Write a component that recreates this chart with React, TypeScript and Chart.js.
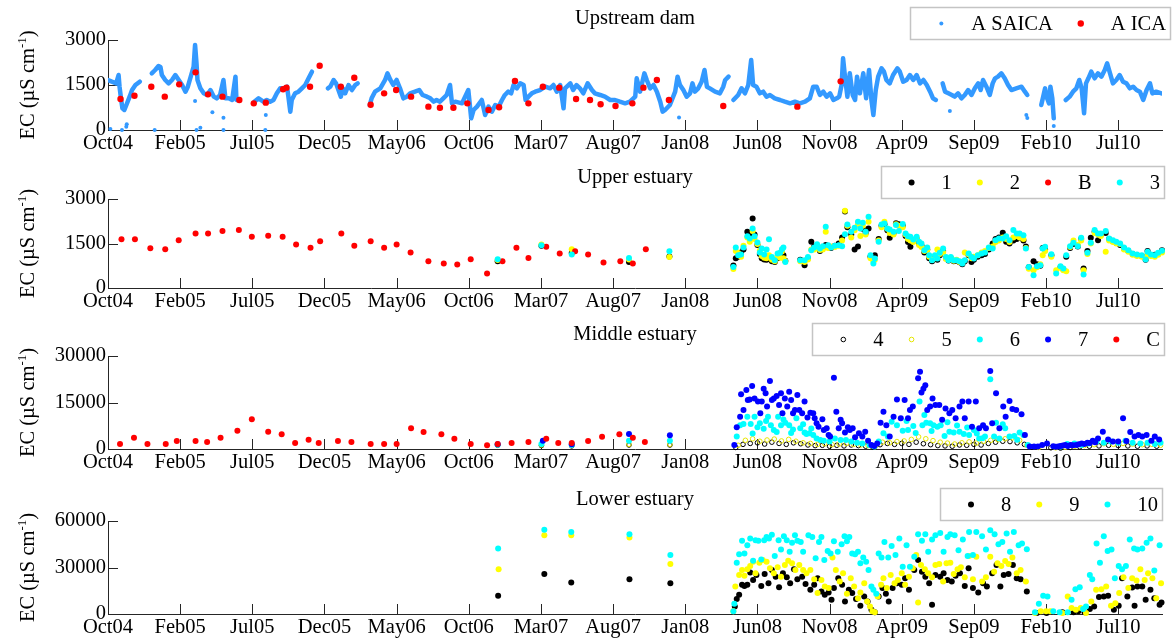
import React, { useEffect, useRef } from 'react';
import { Chart, registerables } from 'chart.js';

Chart.register(...registerables);

const FONT = '"Liberation Serif", "Times New Roman", Times, serif';
const FONT_SIZE = 20.5;
const AXIS = '#262626';
const X_AXIS_H = 26;
// x values are days counted from 1 Oct 2004; the axis runs to 1 Oct 2010
const X_MAX = 2191;
const tickDays = [0, 150, 300, 450, 600, 750, 900, 1050, 1200, 1350, 1500, 1650, 1800, 1950, 2100];
const tickLabels = ['Oct04', 'Feb05', 'Jul05', 'Dec05', 'May06', 'Oct06', 'Mar07', 'Aug07', 'Jan08', 'Jun08', 'Nov08', 'Apr09', 'Sep09', 'Feb10', 'Jul10'];

const C_SAICA = '#3399ff';
const C_RED = '#ff0000';
const C_BLACK = '#000000';
const C_YELLOW = '#ffff00';
const C_CYAN = '#00ffff';
const C_BLUE = '#0000ff';

type Pt = [number, number];

// ---------- Upstream dam ----------
// continuous SAICA record, one array per uninterrupted stretch
const saicaSegments: Pt[][] = [
  [[0, 1667], [8, 1611], [17, 1555], [22, 1833], [24, 1444], [27, 1055], [30, 722], [34, 667], [39, 867], [45, 1111], [50, 1333], [57, 1500], [66, 1611]],
  [[91, 1889], [98, 2000], [105, 2133], [109, 2100], [112, 1833], [119, 1667], [126, 1555], [133, 1667], [140, 1833], [147, 1667], [154, 1500], [161, 1278], [166, 1444], [172, 1778], [178, 2111], [181, 2833], [184, 2222], [186, 1667], [192, 1389], [199, 1222], [206, 1167], [213, 1333], [220, 1111], [226, 1055], [233, 1167], [240, 1667], [244, 1055], [251, 1055], [258, 1000], [265, 1778], [267, 1000], [271, 1000]],
  [[304, 944], [313, 1055], [323, 944], [330, 1000], [337, 944], [344, 1000], [351, 1222], [358, 1389], [365, 1389], [372, 1444], [375, 1111], [379, 611], [382, 1000], [389, 1222], [396, 1278], [403, 1389], [410, 1500], [417, 1722], [424, 1944]],
  [[457, 1389], [462, 1444], [469, 1667], [474, 1555], [479, 1333], [484, 1111], [488, 1389], [493, 1222], [500, 1500], [507, 1333], [514, 1500], [519, 1555]],
  [[544, 833], [548, 1055], [555, 1278], [566, 1389], [576, 1667], [581, 1889], [587, 1667], [593, 1500], [600, 1667], [607, 1389], [614, 1055], [621, 1111], [628, 1222], [638, 1278], [647, 1333], [654, 1167], [663, 1111], [670, 1055], [677, 944], [683, 1000], [690, 944], [697, 1055], [704, 1167], [711, 1500], [715, 889], [722, 944], [736, 889], [749, 1333], [755, 389], [760, 667], [767, 778], [777, 1000], [784, 500], [791, 778], [798, 611], [805, 833], [812, 778], [819, 1000], [825, 1167], [832, 1278], [838, 1222], [843, 1500], [850, 1389], [857, 1555], [864, 1500], [868, 1000], [874, 1111], [881, 1222], [888, 1278], [898, 1333], [909, 1444], [919, 1389], [926, 1500], [933, 1278], [940, 1500], [947, 722], [950, 1389], [961, 1555], [967, 1333], [974, 1500], [981, 1389], [988, 1222], [997, 1555], [1006, 1333], [1012, 1222], [1023, 1167], [1033, 1111], [1044, 1000], [1054, 1000], [1064, 944], [1075, 889], [1085, 944], [1096, 1111], [1099, 1722], [1106, 1278], [1115, 1889], [1120, 1667], [1127, 1389], [1134, 1500], [1141, 1278], [1148, 944], [1153, 611], [1158, 667], [1168, 833], [1179, 1278], [1184, 1778], [1189, 1500], [1196, 1333], [1203, 1111], [1210, 1222], [1215, 1555], [1220, 1278], [1227, 1389], [1234, 1611], [1240, 2000], [1245, 1444], [1251, 1389], [1262, 1278], [1272, 1222], [1279, 1444], [1283, 1667], [1290, 1778]],
  [[1300, 1000], [1310, 1167], [1317, 1389], [1324, 1222], [1331, 1500], [1337, 2333], [1341, 1500], [1348, 1444], [1355, 1222], [1362, 1278], [1369, 1111], [1376, 1167], [1386, 1055], [1397, 1000], [1407, 944], [1418, 889], [1428, 944], [1438, 889], [1449, 944], [1459, 1055], [1466, 1444], [1473, 1444], [1480, 1167], [1487, 1278], [1494, 1111], [1501, 1222], [1508, 1000], [1515, 1055], [1520, 1111], [1525, 1500], [1528, 2389], [1532, 1778], [1537, 1111], [1542, 1889], [1548, 1167], [1553, 1000], [1557, 1778], [1563, 1222], [1570, 1889], [1576, 1055], [1582, 2000], [1587, 1000], [1591, 500], [1596, 1333], [1601, 1778], [1608, 2056], [1613, 1944], [1618, 1667], [1625, 1555], [1632, 1833], [1641, 2056], [1646, 1944], [1653, 1611], [1660, 1667], [1667, 1833], [1674, 1667], [1681, 1833], [1688, 1555], [1695, 1667], [1702, 1500], [1709, 1278], [1715, 1055], [1721, 1000]],
  [[1735, 1555], [1740, 1278], [1747, 1222], [1754, 1167], [1760, 1111], [1767, 1222], [1774, 1055], [1781, 1167], [1788, 1333], [1795, 1167], [1802, 1389], [1809, 1555], [1814, 1333], [1819, 1667], [1826, 1444], [1833, 1167], [1839, 1555], [1844, 1722], [1850, 1778], [1857, 1889], [1864, 1722], [1871, 1500], [1878, 1333], [1888, 1389], [1899, 1444], [1906, 1278], [1911, 1167]],
  [[1940, 833], [1944, 1111], [1948, 1389], [1951, 1111], [1956, 889], [1959, 1444], [1963, 1055], [1966, 389]],
  [[1991, 1000], [1999, 1111], [2006, 1278], [2013, 1389], [2019, 1667], [2024, 1389], [2029, 555], [2033, 1555], [2038, 1722], [2044, 1944], [2051, 1722], [2058, 1889], [2065, 1778], [2072, 2000], [2077, 2222], [2083, 1889], [2089, 1555], [2096, 1667], [2103, 1833], [2110, 1611], [2117, 1555], [2124, 1389], [2131, 1444], [2138, 1333], [2145, 1278], [2152, 1000], [2159, 1333], [2166, 1555], [2171, 1222], [2179, 1278], [2190, 1222]],
];

// isolated SAICA readings away from the main record
const saicaStray: Pt[] = [
  [5, 33], [29, 0], [38, 110], [39, 190], [97, 0], [181, 967], [184, 0], [192, 78], [217, 590], [240, 411], [240, 0],
  [327, 0], [328, 500], [1187, 420], [1750, 633], [1909, 500], [1911, 400], [1966, 133],
];

const ica: Pt[] = [
  [26, 1033], [55, 1144], [90, 1444], [118, 1111], [148, 1522], [182, 1922], [208, 1189], [238, 1111], [273, 1000], [303, 889],
  [328, 911], [364, 1356], [371, 1411], [420, 1444], [440, 2144], [484, 1444], [512, 1744], [546, 844], [574, 1222], [599, 1333],
  [630, 1111], [666, 778], [690, 744], [718, 744], [747, 889], [791, 667], [813, 756], [846, 1633], [874, 889], [904, 1444],
  [938, 1411], [973, 1033], [1002, 1000], [1024, 856], [1055, 800], [1090, 889], [1113, 1411], [1141, 1667], [1166, 1000], [1279, 800],
  [1433, 778], [1523, 1622],
];

// ---------- Upper estuary ----------
const upperB: Pt[] = [
  [28, 1647], [56, 1647], [88, 1342], [119, 1308], [147, 1613], [182, 1839], [208, 1839], [238, 1918], [272, 1951], [299, 1726],
  [333, 1760], [363, 1726], [391, 1466], [421, 1354], [441, 1579], [485, 1839], [512, 1421], [546, 1579], [574, 1354], [600, 1466],
  [629, 1196], [666, 902], [698, 823], [726, 790], [754, 970], [788, 485], [820, 902], [849, 1354], [874, 1015], [911, 1387],
  [939, 1162], [971, 1241], [998, 1128], [1030, 857], [1065, 902], [1091, 823], [1118, 1308],
];

const upperDays = [
  810, 901, 964, 1083, 1167,
  1300, 1305, 1310, 1316, 1321, 1329, 1334, 1340, 1344, 1350, 1355, 1359, 1364, 1369, 1374, 1380, 1386, 1392, 1397, 1401, 1404, 1408,
  1439, 1448, 1455, 1462, 1468, 1474, 1480, 1486, 1492, 1497,
  1503, 1511, 1519, 1526, 1532, 1537, 1545, 1552, 1559, 1564,
  1569, 1575, 1581, 1585, 1591, 1594, 1602, 1608, 1614, 1620,
  1625, 1633, 1638, 1644, 1652, 1658, 1663, 1668, 1674, 1681,
  1686, 1691, 1697, 1703, 1707, 1713, 1719, 1724, 1729, 1736,
  1742, 1747, 1752, 1758, 1764, 1770, 1776, 1781, 1789, 1795,
  1800, 1808, 1816, 1823, 1831, 1839, 1845, 1852, 1860, 1867,
  1874, 1882, 1889, 1895, 1903, 1908,
  1914, 1924, 1931, 1938, 1943, 1948, 1961, 1971, 1980, 1986,
  1992, 2000, 2007, 2016, 2023, 2028, 2036, 2043, 2051, 2058,
  2064, 2074, 2081, 2089, 2096, 2104, 2112, 2121, 2130, 2139,
  2149, 2157, 2161, 2168, 2176, 2183, 2191,
];

const upper1: (number | null)[] = [
  902, 1420, 1180, 880, 1060,
  760, 1000, 1050, 1200, 1300, 1895, 1750, 2346, 1800, 1450, 1150, 1000, 960, 950, 1000, 900, 880, 1000, 1100, 1180, 1100, 920,
  950, 767, 1000, 1557, 1400, 1360, 1250, 1350, 1450, 1380,
  1350, 1420, 1500, 1703, 2580, 2050, 1800, 1297, 1400, 2100,
  2000, 1850, 2008, 1050, 1000, 1100, 1650, 2100, 2150, 1950,
  1692, 1850, 2180, 2150, 2100, 1750, 1550, 1387, 1600, 1650,
  1500, 1420, 1200, 1300, 1000, 900, 1050, 950, 1100, 1250,
  1000, 930, 1000, 900, 920, 870, 800, 900, 1100, 880,
  950, 1050, 1100, 1150, 1300, 1500, 1650, 1700, 1861, 1557,
  1500, 1600, 1650, 1700, 1600, 1400,
  700, 900, 800, 750, 1350, 1300, 1100, null, 700, 620,
  1050, 1350, 1480, 1400, 1650, 654, 1250, 1692, 1900, 1613,
  1800, 1850, 1650, 1580, 1520, 1450, 1330, 1250, 1150, 1100,
  1080, 950, 1250, 1100, 1120, 1150, 1274,
];

const upper2: (number | null)[] = [
  940, 1466, 1308, 960, 1049,
  640, 1250, 1180, 1050, 1420, 1700, 1560, 1920, 1650, 1480, 1260, 1080, 1020, 1000, 1100, 950, 900, 1080, 1020, 1230, 1000, 900,
  900, 880, 960, 1300, 1300, 1420, 1280, 1300, 1895, 1350,
  1400, 1380, 1420, 1600, 2606, 2100, 1700, 1950, 2150, 1750,
  2100, 1800, 2233, 1000, 900, 950, 1600, 2050, 2233, 2000,
  1850, 1800, 2150, 2100, 2050, 1800, 1650, 1600, 1550, 1680,
  1450, 1380, 1250, 1280, 1050, 950, 1000, 1300, 1150, 1200,
  980, 960, 1020, 920, 950, 880, 850, 1200, 1130, 1000,
  1050, 1100, 1200, 1250, 1350, 1400, 1550, 1600, 1700, 1650,
  1550, 1700, 1750, 1700, 1650, 1350,
  650, 600, 700, 800, 1105, 1250, 1050, 600, 680, 600,
  564, 1380, 1600, 1450, 1600, 600, 1150, 1500, 1850, 1800,
  1750, 1218, 1600, 1550, 1500, 1480, 1300, 1220, 1120, 1080,
  1050, 1000, 1150, 1080, 1050, 1120, 1200,
];

const upper3: (number | null)[] = [
  970, 1444, 1128, 1015, 1241,
  711, 1365, 1105, 1128, 1365, 1748, 1669, 2008, 1748, 1534, 1196, 1331, 1128, 1297, 1647, 1049, 936, 1162, 1184, 1308, 1365, 880,
  936, 936, 1049, 1274, 1365, 1478, 1331, 1410, 2064, 1444,
  1365, 1421, 1444, 1410, 1816, 2143, 1895, 2030, 2233, 2008,
  2200, 1895, 2403, 1105, 823, 993, 1557, 2143, 2177, 2008,
  1974, 1895, 2120, 1918, 2155, 1839, 1748, 1726, 1636, 1726,
  1557, 1500, 1274, 1365, 1105, 936, 1105, 993, 1184, 1331,
  1049, 936, 1049, 936, 936, 902, 823, 936, 1162, 1049,
  993, 1105, 1162, 1196, 1365, 1331, 1613, 1669, 1669, 1748,
  1613, 1951, 1839, 1839, 1782, 1331,
  711, 429, 733, 767, 1331, 1387, 1139, 485, 733, 654,
  1105, 1410, 1523, 1410, 1692, 451, 1184, 1523, 1951, 1839,
  1839, 1918, 1669, 1613, 1557, 1500, 1365, 1274, 1162, 1128,
  1105, 958, 1218, 1128, 1105, 1184, 1252,
];

// ---------- Middle estuary ----------
const mid4: Pt[] = [
  [810, 1200], [901, 1100], [964, 1000], [1083, 1290], [1168, 1290],
  [1305, 500], [1320, 1500], [1335, 1800], [1350, 2000], [1365, 1600], [1380, 2200], [1395, 1800], [1410, 1500], [1425, 2000], [1440, 1700],
  [1455, 1300], [1470, 1100], [1485, 1200], [1500, 900], [1515, 1200], [1530, 1000], [1545, 1300], [1560, 1100], [1575, 900], [1590, 600],
  [1605, 1400], [1620, 1800], [1635, 1500], [1650, 1800], [1665, 1500], [1680, 2200], [1695, 1700], [1710, 1400], [1725, 1100], [1740, 1000],
  [1755, 900], [1770, 1300], [1785, 1200], [1800, 1500], [1815, 1300], [1830, 1800], [1845, 2200], [1860, 2500], [1875, 2400], [1890, 2000],
  [1905, 1500], [1920, 600], [1960, 400], [1980, 300], [2000, 500], [2020, 700], [2040, 900], [2060, 1000], [2080, 1200], [2100, 1100],
  [2120, 1000], [2140, 900], [2160, 1000], [2180, 900],
];

const mid5: Pt[] = [
  [810, 1350], [901, 1300], [964, 1200], [1083, 1500], [1168, 1500],
  [1310, 1200], [1325, 2800], [1340, 3300], [1355, 2500], [1370, 2900], [1385, 3200], [1400, 2600], [1415, 3100], [1430, 2500], [1445, 2000],
  [1460, 1800], [1475, 1500], [1490, 1700], [1505, 1400], [1520, 1600], [1535, 1800], [1550, 1500], [1565, 1300], [1580, 1100], [1595, 800],
  [1610, 2200], [1625, 2000], [1640, 2400], [1655, 2600], [1670, 3100], [1685, 3900], [1700, 3300], [1715, 2700], [1730, 2200], [1745, 1900],
  [1760, 1600], [1775, 2000], [1790, 2300], [1805, 1900], [1820, 2500], [1835, 2800], [1850, 3000], [1865, 3300], [1880, 3600], [1895, 2800],
  [1910, 1200], [1935, 500], [1970, 400], [1990, 600], [2010, 900], [2030, 1100], [2050, 1400], [2070, 1700], [2090, 1500], [2110, 1800],
  [2130, 1600], [2150, 1400], [2170, 1500], [2188, 1200],
];

const mid6: Pt[] = [
  [810, 1400], [901, 1613], [964, 1300], [1083, 2688], [1168, 2688],
  [1307, 4000], [1314, 7700], [1321, 8100], [1329, 10400], [1336, 8100], [1340, 5000], [1344, 10400], [1350, 7000], [1355, 8300], [1363, 6500],
  [1368, 9000], [1372, 10400], [1378, 7700], [1384, 6100], [1390, 5500], [1393, 10400], [1399, 7700], [1404, 9500], [1408, 8500], [1416, 7700],
  [1420, 5200], [1424, 6300], [1431, 9900], [1439, 6700], [1445, 8000], [1448, 5300], [1452, 4800], [1458, 5100], [1462, 6600], [1466, 4500],
  [1473, 3400], [1481, 2900], [1488, 2700], [1500, 2400], [1511, 3400], [1523, 2900], [1534, 2900], [1545, 2400], [1557, 2000], [1568, 1800],
  [1583, 1300], [1593, 800], [1602, 2400], [1612, 5100], [1621, 4000], [1629, 8800], [1640, 7700], [1652, 5900], [1660, 9000], [1663, 6100],
  [1674, 7400], [1679, 5200], [1687, 15300], [1693, 7700], [1697, 11000], [1701, 8500], [1709, 8300], [1712, 5800], [1716, 7700], [1724, 7200],
  [1731, 7700], [1739, 4200], [1745, 8600], [1749, 5600], [1758, 5300], [1765, 7600], [1770, 5600], [1779, 4800], [1786, 6900], [1790, 4500],
  [1800, 6100], [1806, 5000], [1811, 3400], [1818, 3500], [1823, 4000], [1834, 22500], [1842, 4000], [1846, 8500], [1853, 3400], [1860, 8000],
  [1865, 6700], [1874, 4000], [1884, 4200], [1890, 3000], [1895, 5300], [1903, 4500], [1912, 1300],
  [1980, 800], [1994, 1600], [2009, 1800], [2024, 1300], [2039, 1800], [2055, 2400], [2070, 2000], [2085, 2400], [2100, 2000], [2115, 2700],
  [2130, 2000], [2146, 1800], [2161, 2000], [2176, 1600], [2188, 2000],
];

const mid7: Pt[] = [
  [810, 1500], [904, 2690], [964, 1500], [1083, 4838], [1168, 4408],
  [1302, 1300], [1307, 7000], [1314, 10400], [1316, 17700], [1321, 12600], [1327, 19000], [1330, 15800], [1334, 16000], [1339, 20300], [1344, 16300],
  [1351, 15300], [1356, 11500], [1359, 15300], [1363, 19400], [1367, 18000], [1370, 13700], [1376, 21900], [1380, 15800], [1384, 16300], [1390, 17100],
  [1395, 14200], [1399, 18000], [1402, 11500], [1407, 16300], [1412, 13700], [1416, 18500], [1420, 15800], [1424, 11500], [1428, 12600], [1433, 17400],
  [1437, 12600], [1443, 11500], [1448, 15300], [1454, 10200], [1460, 11700], [1466, 11500], [1469, 9900], [1473, 8300], [1477, 7200], [1485, 9600],
  [1488, 6100], [1494, 6700], [1498, 4500], [1501, 4000], [1509, 23000], [1514, 12000], [1519, 6700], [1523, 9400], [1526, 8300], [1532, 5300],
  [1538, 7000], [1542, 6100], [1548, 6700], [1553, 3800], [1561, 5100], [1568, 4000], [1574, 5600], [1580, 2700], [1587, 1300], [1593, 1000],
  [1599, 1800], [1606, 8500], [1612, 12000], [1618, 7700], [1625, 4000], [1633, 10400], [1640, 16000], [1648, 9900], [1656, 15800], [1663, 9900],
  [1667, 12600], [1673, 13700], [1684, 22800], [1688, 24900], [1691, 18200], [1695, 19400], [1699, 20600], [1703, 12600], [1709, 13700], [1714, 16300],
  [1720, 14200], [1728, 14200], [1734, 9400], [1741, 13100], [1749, 11500], [1755, 12600], [1762, 9900], [1770, 13700], [1776, 15300], [1781, 9900],
  [1789, 15300], [1796, 7200], [1804, 15300], [1811, 6700], [1819, 7700], [1825, 6700], [1834, 25200], [1838, 8300], [1846, 18000], [1853, 6700],
  [1861, 13700], [1866, 10400], [1874, 15500], [1880, 12900], [1888, 12600], [1899, 11200], [1906, 4500], [1916, 800], [1925, 800], [1933, 800],
  [1942, 1300], [1952, 1800], [1965, 900], [1970, 700], [1975, 800], [1980, 1000], [1985, 1100], [1990, 1300], [1995, 1000], [2001, 1300],
  [2006, 1200], [2013, 1300], [2018, 1500], [2024, 1800], [2030, 1600], [2036, 2000], [2041, 1900], [2047, 2700], [2052, 2200], [2058, 3400],
  [2068, 5600], [2079, 3100], [2089, 2400], [2100, 2400], [2110, 9900], [2117, 2600], [2125, 5500], [2134, 4000], [2142, 4500], [2150, 4000],
  [2159, 4500], [2169, 2700], [2176, 4000], [2185, 3100],
];

const midC: Pt[] = [
  [25, 1613], [54, 3655], [82, 1613], [120, 1613], [143, 2580], [182, 2580], [206, 2258], [234, 3655], [269, 5913], [299, 9568],
  [333, 5590], [361, 4730], [389, 1935], [417, 3010], [438, 1935], [478, 2580], [506, 2258], [546, 1613], [574, 1613], [600, 1613],
  [630, 6665], [656, 5483], [693, 4730], [720, 3333], [754, 1613], [788, 1183], [810, 1613], [839, 1935], [874, 2258], [911, 3333],
  [936, 1935], [964, 1935], [998, 2580], [1027, 3978], [1063, 4730], [1091, 3655], [1116, 2258],
];

// ---------- Lower estuary ----------
const low8: Pt[] = [
  [811, 11700], [907, 25800], [963, 20300], [1084, 22400], [1169, 19900],
  [1303, 4900], [1307, 9600], [1312, 12400], [1318, 18800], [1323, 18100], [1329, 18800], [1335, 26700], [1341, 22000], [1348, 25200], [1358, 18100],
  [1365, 25800], [1373, 19900], [1380, 28400], [1388, 24100], [1395, 17300], [1403, 26300], [1411, 23700], [1418, 19900], [1426, 28800], [1433, 22400],
  [1443, 24100], [1450, 19400], [1460, 15600], [1468, 18800], [1475, 23100], [1483, 14500], [1490, 12400], [1498, 13900], [1504, 9200], [1509, 16700],
  [1518, 23100], [1526, 18800], [1532, 8100], [1540, 15600], [1547, 13500], [1555, 9600], [1564, 5300], [1572, 11300], [1579, 8100], [1587, 2800],
  [1594, 1100], [1602, 11300], [1610, 16700], [1617, 13000], [1623, 8100], [1631, 16700], [1640, 19900], [1650, 18800], [1657, 23100], [1665, 15600],
  [1676, 28400], [1684, 34800], [1692, 27300], [1699, 24100], [1707, 19900], [1713, 6000], [1720, 25200], [1730, 24100], [1737, 26300], [1745, 22000],
  [1754, 20900], [1762, 24600], [1771, 26300], [1781, 18100], [1789, 29500], [1798, 16700], [1809, 13900], [1819, 19900], [1827, 17700], [1838, 26300],
  [1847, 31600], [1855, 17700], [1862, 25200], [1872, 25800], [1881, 31600], [1889, 23100], [1897, 22400], [1910, 14500],
  [1931, 600], [1951, 600], [1984, 1100], [2007, 1100], [2017, 1700], [2030, 1100], [2041, 3200], [2050, 4900], [2060, 10900], [2070, 11300],
  [2079, 11700], [2091, 2800], [2101, 5300], [2108, 23100], [2119, 11300], [2129, 17100], [2134, 5300], [2140, 17700], [2150, 17700], [2157, 9200],
  [2167, 15600], [2175, 10200], [2186, 6000], [2190, 7500],
];

const low9: Pt[] = [
  [812, 28800], [907, 50800], [963, 50800], [1084, 49300], [1169, 32200],
  [1300, 1700], [1304, 17700], [1312, 25200], [1318, 28400], [1323, 24600], [1329, 28800], [1335, 31000], [1341, 33700], [1346, 26300], [1354, 33100],
  [1361, 34800], [1369, 33700], [1376, 29500], [1384, 26300], [1392, 30100], [1399, 24100], [1407, 31600], [1414, 34400], [1422, 32700], [1429, 28400],
  [1437, 31600], [1445, 28400], [1452, 26300], [1460, 28400], [1468, 22400], [1475, 13500], [1483, 22000], [1490, 17700], [1498, 16700], [1506, 36500],
  [1513, 28400], [1521, 20900], [1528, 26300], [1536, 13000], [1544, 23100], [1551, 17700], [1559, 10200], [1564, 13900], [1572, 19900], [1578, 8100],
  [1584, 4900], [1589, 1700], [1594, 1100], [1600, 11300], [1607, 18800], [1612, 23100], [1619, 16700], [1627, 25200], [1635, 19900], [1642, 22000],
  [1650, 26300], [1657, 18800], [1665, 24100], [1673, 29500], [1680, 38000], [1684, 7500], [1690, 31600], [1698, 28800], [1705, 26300], [1713, 23700],
  [1720, 31600], [1728, 32200], [1736, 20900], [1743, 32700], [1751, 33100], [1758, 25800], [1766, 28800], [1773, 30100], [1781, 23700], [1790, 37400],
  [1798, 22400], [1805, 36900], [1817, 20900], [1825, 23700], [1834, 36900], [1842, 27300], [1849, 32700], [1857, 31000], [1865, 34200], [1872, 32200],
  [1880, 36500], [1889, 26300], [1897, 28400], [1908, 20900],
  [1927, 600], [1939, 1700], [1950, 1700], [1959, 1700], [1984, 600], [1995, 11300], [2003, 3800], [2012, 2800], [2022, 3800], [2033, 600],
  [2044, 8100], [2054, 15600], [2065, 16000], [2075, 17700], [2085, 5300], [2094, 7000], [2102, 13500], [2111, 23700], [2121, 16700], [2129, 23100],
  [2138, 21600], [2146, 28800], [2155, 22000], [2162, 26300], [2171, 23100], [2179, 10200], [2189, 19900],
];

const low10: Pt[] = [
  [811, 42300], [907, 54400], [963, 52900], [1084, 51500], [1169, 38000],
  [1300, 1700], [1302, 6600], [1307, 33100], [1312, 38600], [1318, 47200], [1323, 39100], [1329, 44400], [1335, 48700], [1341, 34400], [1346, 47600],
  [1352, 47200], [1358, 35200], [1364, 47600], [1369, 49700], [1374, 48700], [1380, 51200], [1386, 37400], [1394, 47600], [1399, 41600], [1405, 50200],
  [1411, 47600], [1417, 40100], [1422, 45900], [1428, 50800], [1433, 47200], [1440, 46500], [1445, 40100], [1456, 50800], [1464, 49700], [1471, 35900],
  [1478, 46500], [1483, 49700], [1489, 34800], [1496, 40600], [1502, 39100], [1509, 47000], [1517, 40100], [1525, 45000], [1531, 50200], [1536, 47000],
  [1541, 49700], [1547, 39100], [1553, 38600], [1559, 40100], [1564, 32700], [1570, 36500], [1576, 33700], [1581, 28400], [1587, 17700], [1591, 15600],
  [1597, 13000], [1602, 39100], [1608, 36500], [1614, 46500], [1622, 36500], [1629, 43800], [1637, 38000], [1645, 48700], [1652, 30500], [1660, 44400],
  [1667, 30500], [1676, 36900], [1684, 51500], [1692, 47200], [1699, 51500], [1705, 40100], [1713, 48000], [1720, 50800], [1730, 52300], [1737, 40100],
  [1745, 49700], [1751, 51500], [1760, 50800], [1768, 41200], [1777, 48000], [1787, 37400], [1790, 52900], [1798, 38000], [1805, 52900], [1817, 50200],
  [1825, 41600], [1834, 54000], [1843, 51500], [1851, 45000], [1859, 46500], [1868, 51900], [1875, 40100], [1883, 52900], [1893, 44400], [1900, 45500],
  [1910, 41800],
  [1927, 1100], [1935, 6600], [1944, 11700], [1953, 11300], [1965, 1700], [1978, 1100], [1995, 1100], [2003, 9200], [2011, 16000], [2020, 17300],
  [2027, 3200], [2033, 4900], [2041, 25200], [2046, 22400], [2055, 45500], [2062, 33100], [2070, 50200], [2078, 40600], [2086, 41600], [2093, 23100],
  [2101, 31000], [2108, 28800], [2116, 31000], [2124, 48000], [2133, 42300], [2140, 41600], [2150, 42300], [2159, 45900], [2167, 48700], [2175, 28000],
  [2186, 44400],
];

// ---------- chart helpers ----------
const xy = (list: Pt[]) => list.map(([x, y]) => ({ x, y }));
const zip = (days: number[], vals: (number | null)[]) =>
  days.map((d, i) => ({ x: d, y: vals[i] })).filter((p) => p.y !== null && p.y !== undefined);

const dot = (label: string, data: any[], color: string, r: number, order: number) => ({
  label, data, order, clip: false,
  backgroundColor: color, borderColor: color,
  pointRadius: r, pointHoverRadius: r, pointBorderWidth: 0,
});
const ring = (label: string, data: any[], color: string, r: number, order: number) => ({
  label, data, order, clip: false,
  backgroundColor: 'rgba(0,0,0,0)', borderColor: color,
  pointRadius: r, pointHoverRadius: r, pointBorderWidth: 1,
});
const trace = (label: string, data: any[], color: string, order: number) => ({
  label, data, order, showLine: true,
  borderColor: color, backgroundColor: color, borderWidth: 4.5,
  borderCapStyle: 'round', borderJoinStyle: 'round',
  pointRadius: 0, pointHoverRadius: 0, tension: 0,
});

type LegendItem = { label: string; color: string; r: number; open?: boolean };

type PanelSpec = {
  title: string;
  yMax: number;
  yTicks: number[];
  top: number;
  height: number;
  areaTop: number;
  areaBottom: number;
  legendShift: number;
  legend: LegendItem[];
  build: () => any[];
};

const panels: PanelSpec[] = [
  {
    title: 'Upstream dam', yMax: 3000, yTicks: [0, 1500, 3000],
    top: 0, height: 160, areaTop: 40, areaBottom: 130, legendShift: 8,
    legend: [
      { label: 'A SAICA', color: C_SAICA, r: 2 },
      { label: 'A ICA', color: C_RED, r: 3.2 },
    ],
    build: () => [
      ...saicaSegments.map((seg) => trace('A SAICA', xy(seg), C_SAICA, 3)),
      dot('A SAICA', xy(saicaStray), C_SAICA, 2, 2),
      dot('A ICA', xy(ica), C_RED, 3.2, 1),
    ],
  },
  {
    title: 'Upper estuary', yMax: 3000, yTicks: [0, 1500, 3000],
    top: 160, height: 160, areaTop: 39, areaBottom: 128, legendShift: 2,
    legend: [
      { label: '1', color: C_BLACK, r: 3 },
      { label: '2', color: C_YELLOW, r: 3 },
      { label: 'B', color: C_RED, r: 3 },
      { label: '3', color: C_CYAN, r: 3 },
    ],
    build: () => [
      dot('1', zip(upperDays, upper1), C_BLACK, 3, 4),
      dot('2', zip(upperDays, upper2), C_YELLOW, 3, 3),
      dot('B', xy(upperB), C_RED, 3, 2),
      dot('3', zip(upperDays, upper3), C_CYAN, 3, 1),
    ],
  },
  {
    title: 'Middle estuary', yMax: 30000, yTicks: [0, 15000, 30000],
    top: 320, height: 160, areaTop: 36, areaBottom: 129, legendShift: 2,
    legend: [
      { label: '4', color: C_BLACK, r: 2.3, open: true },
      { label: '5', color: '#e6e600', r: 2.3, open: true },
      { label: '6', color: C_CYAN, r: 3 },
      { label: '7', color: C_BLUE, r: 3 },
      { label: 'C', color: C_RED, r: 3 },
    ],
    build: () => [
      ring('4', xy(mid4), C_BLACK, 2.3, 5),
      ring('5', xy(mid5), '#e6e600', 2.3, 4),
      dot('6', xy(mid6), C_CYAN, 3, 3),
      dot('7', xy(mid7), C_BLUE, 3, 2),
      dot('C', xy(midC), C_RED, 3, 1),
    ],
  },
  {
    title: 'Lower estuary', yMax: 60000, yTicks: [0, 30000, 60000],
    top: 480, height: 161, areaTop: 41, areaBottom: 134, legendShift: 0,
    legend: [
      { label: '8', color: C_BLACK, r: 3 },
      { label: '9', color: C_YELLOW, r: 3 },
      { label: '10', color: C_CYAN, r: 3 },
    ],
    build: () => [
      dot('8', xy(low8), C_BLACK, 3, 3),
      dot('9', xy(low9), C_YELLOW, 3, 2),
      dot('10', xy(low10), C_CYAN, 3, 1),
    ],
  },
];

// inward tick marks, panel title, y-axis title and the boxed legend
const panelDecor = {
  id: 'panelDecor',
  beforeDatasetsDraw(chart: any, _args: any, opts: any) {
    const { ctx, chartArea: a, scales } = chart;
    ctx.save();
    ctx.strokeStyle = AXIS;
    ctx.lineWidth = 1;
    ctx.beginPath();
    for (const t of tickDays) {
      const px = Math.round(scales.x.getPixelForValue(t)) + 0.5;
      ctx.moveTo(px, a.bottom);
      ctx.lineTo(px, a.bottom - 10);
    }
    for (const t of opts.yTicks) {
      const py = Math.round(scales.y.getPixelForValue(t)) + 0.5;
      ctx.moveTo(a.left, py);
      ctx.lineTo(a.left + 10, py);
    }
    ctx.stroke();
    ctx.restore();
  },
  afterDraw(chart: any, _args: any, opts: any) {
    const { ctx, chartArea: a } = chart;
    const big = `${FONT_SIZE}px ${FONT}`;
    ctx.save();
    ctx.fillStyle = '#000';

    // title
    ctx.font = big;
    ctx.textAlign = 'center';
    ctx.textBaseline = 'middle';
    ctx.fillText(opts.title, (a.left + a.right) / 2, a.top - 21);

    // y-axis title with superscript
    ctx.save();
    ctx.translate(27, (a.top + a.bottom) / 2);
    ctx.rotate(-Math.PI / 2);
    const parts: [string, string, number][] = [
      ['EC (µS cm', big, 0],
      ['-1', `13px ${FONT}`, -8],
      [')', big, 0],
    ];
    let w = 0;
    for (const [t, f] of parts) { ctx.font = f; w += ctx.measureText(t).width; }
    let x = -w / 2;
    ctx.textAlign = 'left';
    ctx.textBaseline = 'alphabetic';
    for (const [t, f, dy] of parts) {
      ctx.font = f;
      ctx.fillText(t, x, 7 + dy);
      x += ctx.measureText(t).width;
    }
    ctx.restore();

    // legend
    const items: LegendItem[] = opts.legend;
    ctx.font = big;
    const padL = 31, toText = 30, toNext = 28, padR = 4, boxH = 33;
    let total = padL + padR;
    items.forEach((it, i) => {
      total += toText + ctx.measureText(it.label).width + (i < items.length - 1 ? toNext : 0);
    });
    const right = a.right + opts.legendShift;
    const left = right - total;
    const top = a.top - boxH;
    ctx.fillStyle = '#ffffff';
    ctx.fillRect(left, top, total, boxH);
    ctx.strokeStyle = '#c4c4c4';
    ctx.lineWidth = 1.5;
    ctx.strokeRect(Math.round(left) + 0.5, top + 0.5, Math.round(total), boxH - 1);
    const cy = top + boxH / 2;
    let mx = left + padL;
    ctx.textAlign = 'left';
    ctx.textBaseline = 'middle';
    for (const it of items) {
      ctx.beginPath();
      ctx.arc(mx, cy, it.r, 0, Math.PI * 2);
      if (it.open) {
        ctx.strokeStyle = it.color;
        ctx.lineWidth = 1;
        ctx.stroke();
      } else {
        ctx.fillStyle = it.color;
        ctx.fill();
      }
      ctx.fillStyle = '#000';
      ctx.fillText(it.label, mx + toText, cy + 1);
      mx += toText + ctx.measureText(it.label).width + toNext;
    }
    ctx.restore();
  },
};

function Panel({ spec }: { spec: PanelSpec }) {
  const ref = useRef<HTMLCanvasElement | null>(null);
  useEffect(() => {
    if (!ref.current) return;
    const tickFont = { family: FONT, size: FONT_SIZE };
    const chart = new Chart(ref.current, {
      type: 'scatter',
      data: { datasets: spec.build() },
      options: {
        animation: false,
        responsive: false,
        events: [],
        layout: {
          padding: { left: 0, right: 12, top: spec.areaTop, bottom: spec.height - spec.areaBottom - X_AXIS_H },
        },
        plugins: {
          legend: { display: false },
          tooltip: { enabled: false },
          panelDecor: { title: spec.title, legend: spec.legend, yTicks: spec.yTicks, legendShift: spec.legendShift },
        } as any,
        scales: {
          x: {
            type: 'linear', min: 0, max: X_MAX,
            grid: { display: false, drawTicks: false },
            border: { display: true, color: AXIS, width: 1 },
            ticks: {
              padding: 1, font: tickFont, color: '#000', autoSkip: false, maxRotation: 0, minRotation: 0,
              callback: (_v: any, i: number) => tickLabels[i],
            },
            afterBuildTicks: (s: any) => { s.ticks = tickDays.map((v) => ({ value: v })); },
            afterFit: (s: any) => { s.height = X_AXIS_H; },
          },
          y: {
            type: 'linear', min: 0, max: spec.yMax,
            grid: { display: false, drawTicks: false },
            border: { display: true, color: AXIS, width: 1 },
            ticks: {
              padding: 2, font: tickFont, color: '#000', autoSkip: false,
              callback: (v: any) => String(v),
            },
            afterBuildTicks: (s: any) => { s.ticks = spec.yTicks.map((v) => ({ value: v })); },
            afterFit: (s: any) => { s.width = 108; },
          },
        },
      } as any,
      plugins: [panelDecor],
    });
    return () => chart.destroy();
  }, [spec]);
  return (
    <canvas
      ref={ref}
      width={1174}
      height={spec.height}
      style={{ position: 'absolute', left: 0, top: spec.top, display: 'block' }}
    />
  );
}

export default function App() {
  return (
    <div style={{ position: 'absolute', left: 0, top: 0, width: 1174, height: 641, background: '#ffffff', overflow: 'hidden' }}>
      {panels.map((p) => (
        <Panel key={p.title} spec={p} />
      ))}
    </div>
  );
}
